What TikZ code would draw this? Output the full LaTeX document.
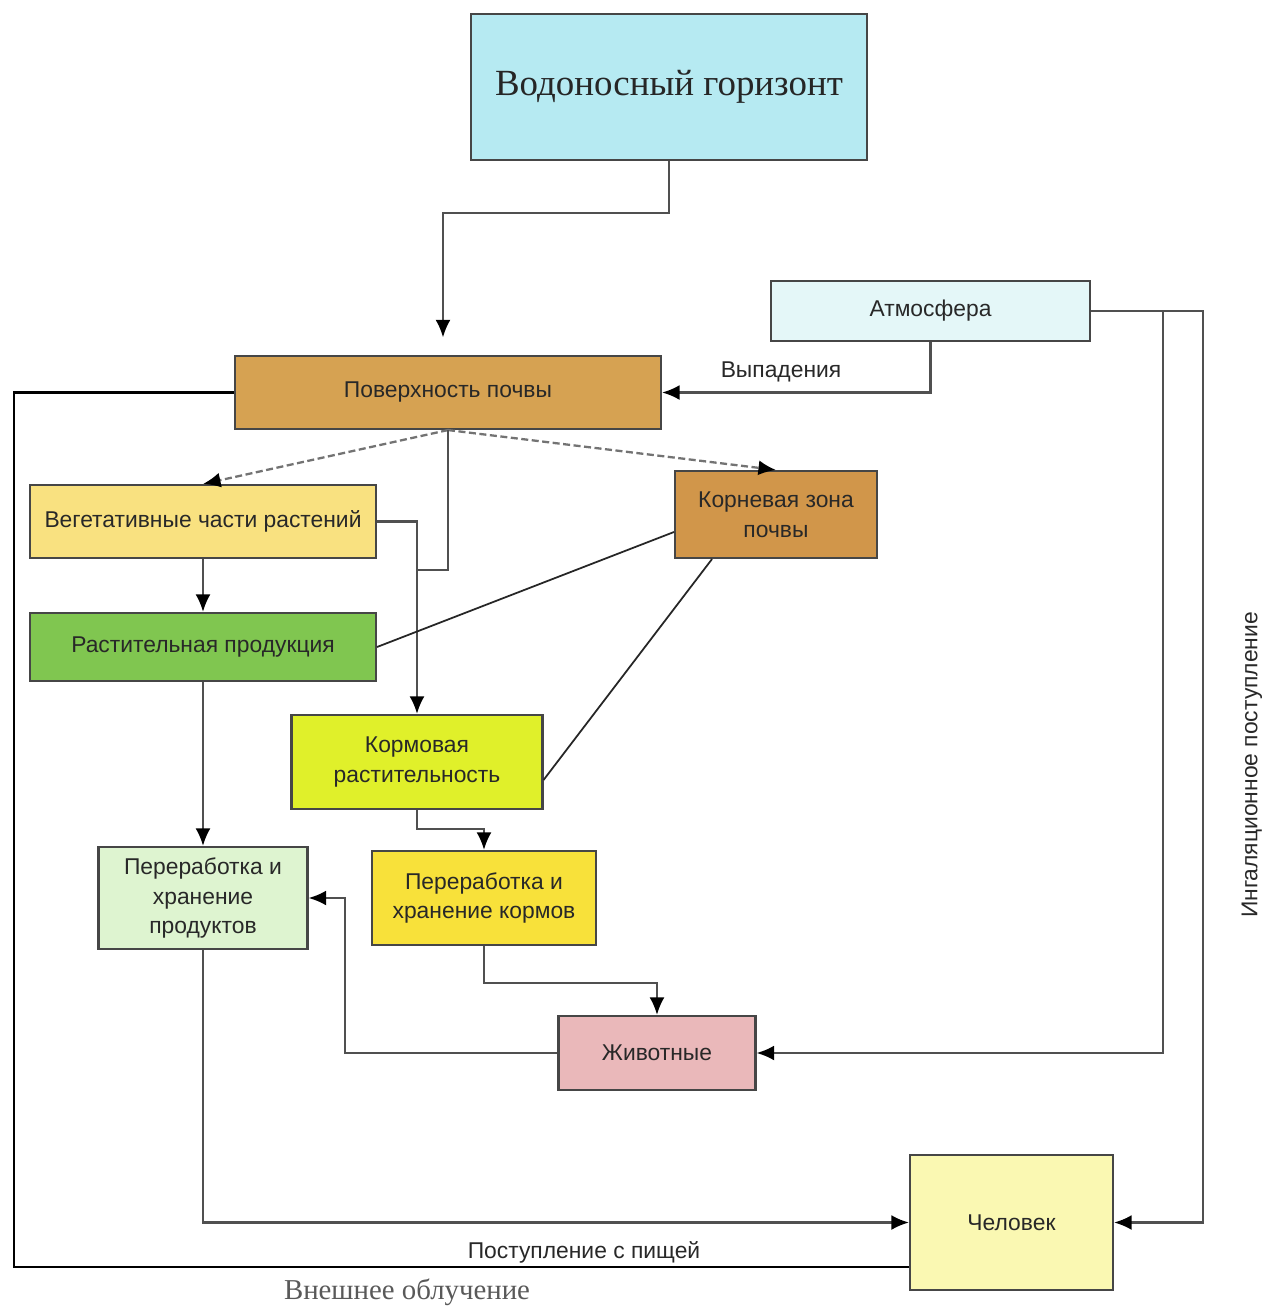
\documentclass[tikz,border=0pt]{standalone}
\usepackage{fontspec}
\setmainfont{Liberation Sans}
\newfontfamily\serifru{Liberation Serif}
\usepackage{tikz}
\usetikzlibrary{positioning,arrows.meta}
\definecolor{frame}{RGB}{70,70,70}
\definecolor{wire}{RGB}{80,80,80}
\definecolor{ink}{RGB}{40,40,40}
\definecolor{aquifer}{RGB}{182,234,242}
\definecolor{atmos}{RGB}{228,247,248}
\definecolor{soil}{RGB}{214,162,82}
\definecolor{rootzone}{RGB}{209,150,74}
\definecolor{vegpart}{RGB}{249,225,128}
\definecolor{cropgreen}{RGB}{128,198,80}
\definecolor{fodder}{RGB}{224,240,42}
\definecolor{foodstore}{RGB}{222,244,208}
\definecolor{fodstore}{RGB}{248,225,58}
\definecolor{animal}{RGB}{234,184,186}
\definecolor{human}{RGB}{250,248,178}

\tikzset{
  blk/.style={draw=frame, line width=1.2pt, align=center, text=ink,
              font=\fontsize{13}{17}\selectfont, inner sep=2pt},
  link/.style={draw=wire, line width=1.3pt},
  flow/.style={link, -{Latex[length=10pt,width=8.5pt,color=black]}},
  dashflow/.style={flow, dash pattern=on 4pt off 2pt, draw=black!55},
  thinlink/.style={draw=black!85, line width=1pt},
  lbl/.style={text=ink, font=\fontsize{13}{15}\selectfont}
}

\begin{document}
\begin{tikzpicture}[x=0.02cm, y=-0.02cm]
  \useasboundingbox[fill=white] (0,0) rectangle (1266,1306);

  % boxes
  \node[blk, fill=aquifer, minimum width=7.92cm, minimum height=2.92cm,
        font=\serifru\fontsize{21}{24}\selectfont, text=black!85] (vodo) at (669,87) {Водоносный горизонт};
  \node[blk, fill=atmos, minimum width=6.38cm, minimum height=1.2cm] (atmo) at (930.5,311) {Атмосфера};
  \node[blk, fill=soil, minimum width=8.52cm, minimum height=1.46cm] (pov) at (448,392.5) {Поверхность почвы};
  \node[blk, fill=vegpart, minimum width=6.92cm, minimum height=1.46cm] (veget) at (203,521.5) {Вегетативные части растений};
  \node[blk, fill=rootzone, minimum width=4.04cm, minimum height=1.74cm] (korn) at (776,514.5) {Корневая зона\\почвы};
  \node[blk, fill=cropgreen, minimum width=6.92cm, minimum height=1.36cm] (rast) at (203,647) {Растительная продукция};
  \node[blk, fill=fodder, minimum width=5.02cm, minimum height=1.88cm] (korm) at (417,762) {Кормовая\\растительность};
  \node[blk, fill=foodstore, minimum width=4.18cm, minimum height=2.04cm] (perprod) at (203,898) {Переработка и\\хранение\\продуктов};
  \node[blk, fill=fodstore, minimum width=4.48cm, minimum height=1.88cm] (perkorm) at (484,898) {Переработка и\\хранение кормов};
  \node[blk, fill=animal, minimum width=3.94cm, minimum height=1.48cm] (zhiv) at (657,1053) {Животные};
  \node[blk, fill=human, minimum width=4.06cm, minimum height=2.7cm] (chel) at (1011.5,1222.5) {Человек};

  % bends
  \coordinate (vbend) at (443,213);
  \coordinate (r1) at (1203,311);
  \coordinate (r2) at (1163,311);
  \coordinate (l1) at (14,392.5);
  \coordinate (l2) at (14,1267);
  \coordinate (m1) at (417,570);
  \coordinate (zb) at (345,898);

  % connectors
  \draw[flow, shorten >=0.35cm] (vodo.south) |- (vbend) -- (vbend |- pov.north);
  \draw[flow] (atmo.south) |- (pov.east);
  \draw[flow] (atmo.east) -- (r1) |- (chel.east);
  \draw[flow] (r2) |- (zhiv.east);
  \draw[link, draw=black, line width=1.5pt] (pov.west) -- (l1) -- (l2) -- (l2 -| chel.west);
  \draw[dashflow] (pov.south) -- (veget.north);
  \draw[dashflow] (pov.south) -- (korn.north);
  \draw[link] (pov.south) |- (m1);
  \draw[flow] (veget.east) -| (korm.north);
  \draw[flow] (veget.south) -- (rast.north);
  \draw[flow] (rast.south) -- (perprod.north);
  \draw[thinlink] ([yshift=-0.35cm]korn.west) -- (rast.east);
  \draw[thinlink] ([xshift=-1.28cm]korn.south) -- ([yshift=-0.36cm]korm.east);
  \draw[flow] (korm.south) -- ++(0,19) -| (perkorm.north);
  \draw[flow] (perkorm.south) -- ++(0,37) -| (zhiv.north);
  \draw[flow] (zhiv.west) -| (zb) -- (perprod.east);
  \draw[flow] (perprod.south) |- (chel.west);

  % labels
  \node[lbl] (vypad) at (781,372) {Выпадения};
  \node[lbl] (pisch) at (584,1252) {Поступление с пищей};
  \node[text=black!65, font=\serifru\fontsize{16.4}{19}\selectfont] (vneshn) at (407,1292) {Внешнее облучение};
  \node[lbl, rotate=90] (ingal) at (1252,765) {Ингаляционное поступление};
\end{tikzpicture}
\end{document}
